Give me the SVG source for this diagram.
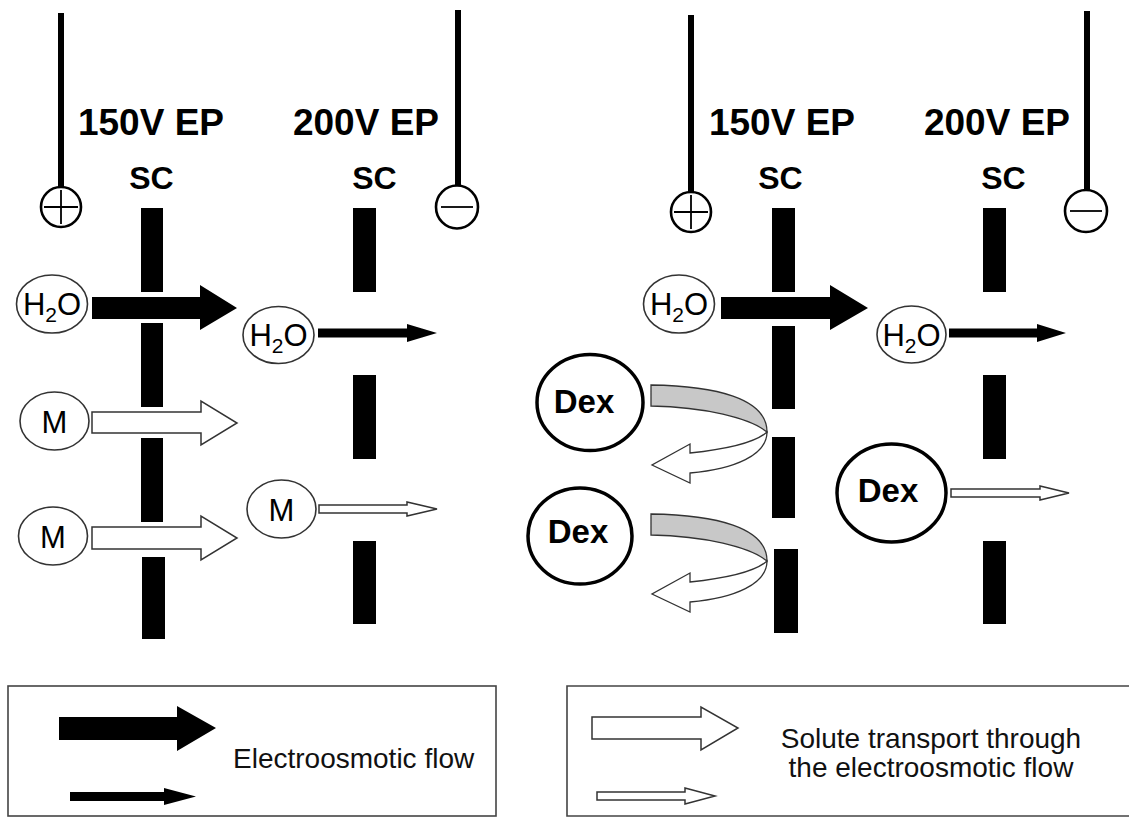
<svg xmlns="http://www.w3.org/2000/svg" width="1129" height="817" viewBox="0 0 1129 817">
<style>
.lbl{font-family:"Liberation Sans",Arial,sans-serif;font-weight:bold;fill:#000}
.big{font-size:37px}
.sc{font-size:32px}
.mol{font-family:"Liberation Sans",Arial,sans-serif;fill:#000;font-size:31px}
.dex{font-family:"Liberation Sans",Arial,sans-serif;font-weight:bold;fill:#000;font-size:33px}
.leg{font-family:"Liberation Sans",Arial,sans-serif;fill:#111;font-size:28px}
.ell{fill:#fff;stroke:#333;stroke-width:1.6}
.dexc{fill:#fff;stroke:#000;stroke-width:3.5}
.wire{stroke:#000;stroke-width:6}
.pole{fill:#fff;stroke:#000;stroke-width:2.6}
.sign{stroke:#000;stroke-width:1.8}
.bar{fill:#000}
.blk{fill:#000}
.wht{fill:#fff;stroke:#333;stroke-width:1.5}
.gry{fill:#c8c8c8;stroke:#333;stroke-width:1.3}
.wht2{fill:#fff;stroke:#333;stroke-width:1.3}
.box{fill:none;stroke:#444;stroke-width:1.6}
</style>
<rect width="1129" height="817" fill="#fff"/>

<!-- Left panel -->
<g id="left-anode">
<line class="wire" x1="61" y1="13" x2="61" y2="190"/>
<circle class="pole" cx="61" cy="207" r="20"/>
<path class="sign" d="M44,207H78M61,190V224"/>
</g>
<g id="left-cathode">
<line class="wire" x1="458" y1="10" x2="458" y2="188"/>
<ellipse class="pole" cx="457" cy="207" rx="21" ry="21.5"/>
<path class="sign" d="M441,207H473"/>
</g>
<g id="left-labels">
<text class="lbl big" x="151" y="135" text-anchor="middle">150V EP</text>
<text class="lbl big" x="366" y="135" text-anchor="middle">200V EP</text>
<text class="lbl sc" x="151.5" y="189" text-anchor="middle">SC</text>
<text class="lbl sc" x="374.5" y="189" text-anchor="middle">SC</text>
</g>
<g id="left-sc150">
<rect class="bar" x="141" y="208" width="22" height="84"/>
<rect class="bar" x="141" y="323" width="22" height="84"/>
<rect class="bar" x="141" y="438" width="22" height="84"/>
<rect class="bar" x="142" y="557" width="23" height="82"/>
</g>
<g id="left-sc200">
<rect class="bar" x="353" y="208" width="23" height="84"/>
<rect class="bar" x="353" y="375" width="23" height="84"/>
<rect class="bar" x="353" y="541" width="23" height="83"/>
</g>
<g id="left-h2o-1">
<ellipse class="ell" cx="52" cy="304" rx="35.5" ry="29"/>
<text class="mol" x="52" y="315" text-anchor="middle">H<tspan font-size="21" dy="7">2</tspan><tspan dy="-7">O</tspan></text>
</g>
<g id="left-h2o-2">
<ellipse class="ell" cx="278.5" cy="335" rx="35.5" ry="28.5"/>
<text class="mol" x="278.5" y="346" text-anchor="middle">H<tspan font-size="21" dy="7">2</tspan><tspan dy="-7">O</tspan></text>
</g>
<g id="left-m-1">
<ellipse class="ell" cx="54.5" cy="421" rx="34.5" ry="29"/>
<text class="mol" x="54.5" y="432.5" text-anchor="middle" font-size="32">M</text>
</g>
<g id="left-m-2">
<ellipse class="ell" cx="53" cy="536" rx="34.5" ry="29"/>
<text class="mol" x="53" y="547.5" text-anchor="middle" font-size="32">M</text>
</g>
<g id="left-m-3">
<ellipse class="ell" cx="281.5" cy="509" rx="34.5" ry="29"/>
<text class="mol" x="281.5" y="520.5" text-anchor="middle" font-size="32">M</text>
</g>

<!-- Right panel -->
<g id="right-anode">
<line class="wire" x1="691" y1="15" x2="691" y2="194"/>
<circle class="pole" cx="691" cy="212" r="20"/>
<path class="sign" d="M674,212H708M691,195V229"/>
</g>
<g id="right-cathode">
<line class="wire" x1="1087" y1="11" x2="1087" y2="191"/>
<ellipse class="pole" cx="1086" cy="211" rx="21" ry="21"/>
<path class="sign" d="M1070,211H1102"/>
</g>
<g id="right-labels">
<text class="lbl big" x="782" y="135" text-anchor="middle">150V EP</text>
<text class="lbl big" x="997" y="135" text-anchor="middle">200V EP</text>
<text class="lbl sc" x="780.5" y="189" text-anchor="middle">SC</text>
<text class="lbl sc" x="1003.5" y="189" text-anchor="middle">SC</text>
</g>
<g id="right-sc150">
<rect class="bar" x="772" y="208" width="23" height="84"/>
<rect class="bar" x="772" y="326" width="23" height="83"/>
<rect class="bar" x="772" y="437" width="23" height="81"/>
<rect class="bar" x="774" y="549" width="24" height="84"/>
</g>
<g id="right-sc200">
<rect class="bar" x="983" y="208" width="23" height="84"/>
<rect class="bar" x="983" y="375" width="23" height="84"/>
<rect class="bar" x="983" y="541" width="23" height="83"/>
</g>
<g id="right-h2o-1">
<ellipse class="ell" cx="679" cy="304" rx="35.5" ry="29"/>
<text class="mol" x="679" y="315" text-anchor="middle">H<tspan font-size="21" dy="7">2</tspan><tspan dy="-7">O</tspan></text>
</g>
<g id="right-h2o-2">
<ellipse class="ell" cx="911.5" cy="334.5" rx="34.5" ry="28.5"/>
<text class="mol" x="911.5" y="345.5" text-anchor="middle">H<tspan font-size="21" dy="7">2</tspan><tspan dy="-7">O</tspan></text>
</g>
<g id="right-dex-1">
<ellipse class="dexc" cx="590" cy="402.5" rx="53" ry="48"/>
<text class="dex" x="584" y="413" text-anchor="middle">Dex</text>
</g>
<g id="right-dex-2">
<ellipse class="dexc" cx="580" cy="536" rx="52" ry="48"/>
<text class="dex" x="578" y="543" text-anchor="middle">Dex</text>
</g>
<g id="right-dex-3">
<ellipse class="dexc" cx="891.5" cy="493" rx="54.5" ry="49"/>
<text class="dex" x="888" y="502" text-anchor="middle">Dex</text>
</g>

<!-- Connectors -->
<g id="connectors">
<path class="blk" d="M92,297H200V285L237,308L200,330V319H92Z"/>
<path class="blk" d="M318,328.5H407V324L437,333L407,342V337.5H318Z"/>
<path class="wht" d="M92,412H201V401L237,423L201,445V433H92Z"/>
<path class="wht" d="M92,527H201V516L237,538L201,560V549H92Z"/>
<path class="wht" d="M319,505H407V502L437,509L407,516V513H319Z"/>
<path class="blk" d="M721,297H830V285L868,308L830,330V319H721Z"/>
<path class="blk" d="M949,328.5H1037V324L1066,333L1037,342V337.5H949Z"/>
<path class="wht" d="M951,489H1040V486L1069,493L1040,500V497H951Z"/>
<g id="uturn-1">
<path class="gry" d="M651,385C715,386 767,398 767,432C750,418 705,407 651,406Z"/>
<path class="wht2" d="M767,432C767,455 735,469 690,473L690,483L652,465L690,444L690,453C728,449 755,443 767,432Z"/>
</g>
<g id="uturn-2" transform="translate(0,129)">
<path class="gry" d="M651,385C715,386 767,398 767,432C750,418 705,407 651,406Z"/>
<path class="wht2" d="M767,432C767,455 735,469 690,473L690,483L652,465L690,444L690,453C728,449 755,443 767,432Z"/>
</g>
</g>

<!-- Legends -->
<g id="legend-eof">
<rect class="box" x="8" y="686" width="488" height="130"/>
<path class="blk" d="M59,717H177V706L216,728L177,751V740H59Z"/>
<path class="blk" d="M70,792H164V788L196,796.5L164,805V801H70Z"/>
<text class="leg" x="233" y="768">Electroosmotic flow</text>
</g>
<g id="legend-solute">
<path class="box" d="M1140,686H567V816H1140"/>
<path class="wht" d="M592,717H701V707L738,728L701,750V739H592Z"/>
<path class="wht" d="M597,792H685V788L715,796L685,804V800H597Z"/>
<text class="leg" x="931" y="748" text-anchor="middle">Solute transport through</text>
<text class="leg" x="931" y="777" text-anchor="middle">the electroosmotic flow</text>
</g>
</svg>
